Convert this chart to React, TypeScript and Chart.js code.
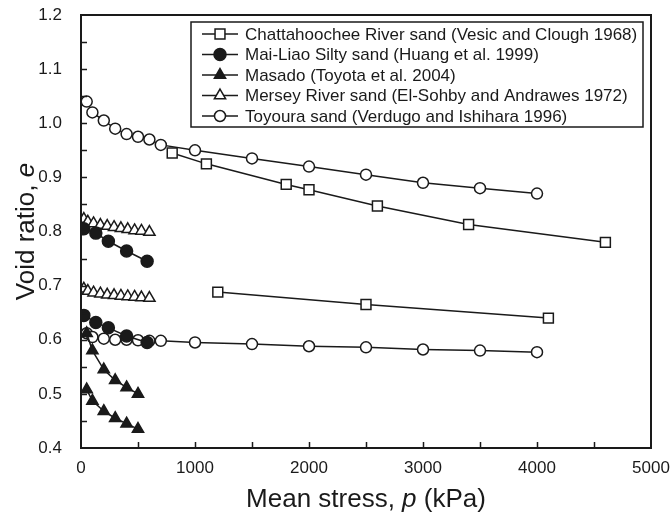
import React, { useEffect, useRef } from 'react';
import { Chart, registerables } from 'chart.js';

Chart.register(...registerables);

// ---- data (mean stress p in kPa, void ratio e) ----
const chattUpperP = [800, 1100, 1800, 2000, 2600, 3400, 4600];
const chattUpperE = [0.945, 0.925, 0.887, 0.877, 0.847, 0.813, 0.78];
const chattLowerP = [1200, 2500, 4100];
const chattLowerE = [0.688, 0.665, 0.64];

const maiP = [25, 130, 240, 400, 580];
const maiUpperE = [0.805, 0.797, 0.782, 0.764, 0.745];
const maiLowerE = [0.645, 0.632, 0.622, 0.607, 0.595];

const masadoP = [50, 100, 200, 300, 400, 500];
const masadoUpperE = [0.612, 0.58, 0.545, 0.525, 0.512, 0.5];
const masadoLowerE = [0.508, 0.487, 0.468, 0.455, 0.445, 0.435];

const merseyP = [25, 60, 110, 170, 230, 290, 350, 410, 470, 530, 600];
const merseyUpperE = [0.823, 0.818, 0.815, 0.812, 0.81, 0.808, 0.806, 0.804, 0.802, 0.801, 0.799];
const merseyLowerE = [0.694, 0.69, 0.687, 0.685, 0.683, 0.682, 0.681, 0.68, 0.679, 0.678, 0.677];

const toyouraP = [50, 100, 200, 300, 400, 500, 600, 700, 1000, 1500, 2000, 2500, 3000, 3500, 4000];
const toyouraUpperE = [1.04, 1.02, 1.005, 0.99, 0.98, 0.975, 0.97, 0.96, 0.95, 0.935, 0.92, 0.905, 0.89, 0.88, 0.87];
const toyouraLowerE = [0.612, 0.605, 0.602, 0.6, 0.6, 0.599, 0.598, 0.598, 0.595, 0.592, 0.588, 0.586, 0.582, 0.58, 0.577];

const legendLabels = [
  'Chattahoochee River sand (Vesic and Clough 1968)',
  'Mai-Liao Silty sand (Huang et al. 1999)',
  'Masado (Toyota et al. 2004)',
  'Mersey River sand (El-Sohby and Andrawes 1972)',
  'Toyoura sand (Verdugo and Ishihara 1996)',
];

const xTicks = [0, 1000, 2000, 3000, 4000, 5000];
const yTicks = [0.4, 0.5, 0.6, 0.7, 0.8, 0.9, 1.0, 1.1, 1.2];

const INK = '#1a1a1a';
const FONT = '"Liberation Sans", Arial, sans-serif';

type Marker = { style: 'rect' | 'circle' | 'triangle'; fill: string; r: number };
const markers: Marker[] = [
  { style: 'rect', fill: '#ffffff', r: 7 },
  { style: 'circle', fill: INK, r: 6 },
  { style: 'triangle', fill: INK, r: 6.5 },
  { style: 'triangle', fill: '#ffffff', r: 6.5 },
  { style: 'circle', fill: '#ffffff', r: 5.5 },
];

function drawMarker(ctx: CanvasRenderingContext2D, m: Marker, x: number, y: number) {
  ctx.beginPath();
  if (m.style === 'circle') {
    ctx.arc(x, y, m.r, 0, Math.PI * 2);
  } else if (m.style === 'rect') {
    const s = Math.SQRT1_2 * m.r;
    ctx.rect(x - s, y - s, 2 * s, 2 * s);
  } else {
    let a = 0;
    ctx.moveTo(x + Math.sin(a) * m.r, y - Math.cos(a) * m.r);
    a += (2 * Math.PI) / 3;
    ctx.lineTo(x + Math.sin(a) * m.r, y - Math.cos(a) * m.r);
    a += (2 * Math.PI) / 3;
    ctx.lineTo(x + Math.sin(a) * m.r, y - Math.cos(a) * m.r);
    ctx.closePath();
  }
  ctx.fillStyle = m.fill;
  ctx.fill();
  ctx.lineWidth = 1.5;
  ctx.strokeStyle = INK;
  ctx.stroke();
}

const pts = (p: number[], e: number[]) => p.map((x, i) => ({ x, y: e[i] }));

function makeDs(label: string, p: number[], e: number[], m: Marker) {
  return {
    label,
    data: pts(p, e),
    showLine: true,
    borderColor: INK,
    borderWidth: 1.5,
    pointStyle: m.style,
    pointRadius: m.r,
    pointBackgroundColor: m.fill,
    pointBorderColor: INK,
    pointBorderWidth: 1.5,
  };
}

function drawMixed(ctx: CanvasRenderingContext2D, parts: [string, boolean][], size: number) {
  let total = 0;
  const widths = parts.map(([t, it]) => {
    ctx.font = `${it ? 'italic ' : ''}${size}px ${FONT}`;
    const w = ctx.measureText(t).width;
    total += w;
    return w;
  });
  let x = -total / 2;
  parts.forEach(([t, it], i) => {
    ctx.font = `${it ? 'italic ' : ''}${size}px ${FONT}`;
    ctx.fillText(t, x, 0);
    x += widths[i];
  });
}

const decorPlugin = {
  id: 'decor',
  afterDraw(chart: any) {
    const ctx: CanvasRenderingContext2D = chart.ctx;
    const { left, right, top, bottom } = chart.chartArea;
    const xs = chart.scales.x;
    const ys = chart.scales.y;
    ctx.save();
    // inner ticks
    ctx.strokeStyle = INK;
    ctx.lineWidth = 1.5;
    ctx.beginPath();
    for (let v = 500; v < 5000; v += 500) {
      const px = Math.round(xs.getPixelForValue(v)) + 0.5;
      ctx.moveTo(px, bottom);
      ctx.lineTo(px, bottom - 6);
    }
    for (let k = 1; k < 16; k++) {
      const py = Math.round(ys.getPixelForValue(0.4 + k * 0.05)) + 0.5;
      ctx.moveTo(left, py);
      ctx.lineTo(left + 6, py);
    }
    ctx.stroke();
    // frame
    ctx.lineWidth = 2;
    ctx.strokeRect(left, top, right - left, bottom - top);

    // tick labels
    ctx.fillStyle = INK;
    ctx.font = `17px ${FONT}`;
    ctx.textBaseline = 'middle';
    ctx.textAlign = 'center';
    xTicks.forEach((v) => ctx.fillText(String(v), xs.getPixelForValue(v), bottom + 20));
    ctx.textAlign = 'right';
    yTicks.forEach((v) => ctx.fillText(v.toFixed(1), left - 19, ys.getPixelForValue(v)));

    // axis titles
    ctx.textAlign = 'left';
    ctx.save();
    ctx.translate((left + right) / 2, 500);
    drawMixed(ctx, [['Mean stress, ', false], ['p', true], [' (kPa)', false]], 26);
    ctx.restore();
    ctx.save();
    ctx.translate(27, (top + bottom) / 2);
    ctx.rotate(-Math.PI / 2);
    drawMixed(ctx, [['Void ratio, ', false], ['e', true]], 26);
    ctx.restore();

    // legend
    const lx = 191, ly = 22, lw = 452, lh = 105;
    ctx.fillStyle = '#ffffff';
    ctx.fillRect(lx, ly, lw, lh);
    ctx.lineWidth = 1.5;
    ctx.strokeStyle = INK;
    ctx.strokeRect(lx, ly, lw, lh);
    ctx.font = `17px ${FONT}`;
    ctx.textAlign = 'left';
    legendLabels.forEach((lab, i) => {
      const y = ly + 12 + i * 20.5;
      ctx.beginPath();
      ctx.moveTo(202, y);
      ctx.lineTo(238, y);
      ctx.lineWidth = 1.5;
      ctx.strokeStyle = INK;
      ctx.stroke();
      drawMarker(ctx, markers[i], 220, y);
      ctx.fillStyle = INK;
      ctx.textBaseline = 'middle';
      ctx.fillText(lab, 245, y + 1);
    });
    ctx.restore();
  },
};

export default function App() {
  const ref = useRef<HTMLCanvasElement | null>(null);
  useEffect(() => {
    if (!ref.current) return;
    const datasets = [
      makeDs(legendLabels[0], chattUpperP, chattUpperE, markers[0]),
      makeDs(legendLabels[0], chattLowerP, chattLowerE, markers[0]),
      makeDs(legendLabels[1], maiP, maiUpperE, markers[1]),
      makeDs(legendLabels[1], maiP, maiLowerE, markers[1]),
      makeDs(legendLabels[2], masadoP, masadoUpperE, markers[2]),
      makeDs(legendLabels[2], masadoP, masadoLowerE, markers[2]),
      makeDs(legendLabels[3], merseyP, merseyUpperE, markers[3]),
      makeDs(legendLabels[3], merseyP, merseyLowerE, markers[3]),
      makeDs(legendLabels[4], toyouraP, toyouraUpperE, markers[4]),
      makeDs(legendLabels[4], toyouraP, toyouraLowerE, markers[4]),
    ];
    const chart = new Chart(ref.current, {
      type: 'scatter',
      data: { datasets: datasets as any },
      options: {
        responsive: false,
        animation: false,
        devicePixelRatio: 1,
        layout: { padding: { left: 0, top: 15, right: 21, bottom: 0 } },
        plugins: { legend: { display: false }, tooltip: { enabled: false } },
        scales: {
          x: {
            type: 'linear',
            min: 0,
            max: 5000,
            afterBuildTicks: (s: any) => { s.ticks = xTicks.map((v) => ({ value: v })); },
            afterFit: (s: any) => { s.height = 71; },
            grid: { display: false, drawTicks: false },
            border: { display: false },
            ticks: { display: false },
          },
          y: {
            type: 'linear',
            min: 0.4,
            max: 1.2,
            afterBuildTicks: (s: any) => { s.ticks = yTicks.map((v) => ({ value: v })); },
            afterFit: (s: any) => { s.width = 81; },
            grid: { display: false, drawTicks: false },
            border: { display: false },
            ticks: { display: false },
          },
        },
      },
      plugins: [decorPlugin],
    });
    return () => chart.destroy();
  }, []);
  return (
    <div style={{ position: 'fixed', left: 0, top: 0, width: 672, height: 519, background: '#fff' }}>
      <canvas ref={ref} width={672} height={519} style={{ width: 672, height: 519, display: 'block' }} />
    </div>
  );
}
